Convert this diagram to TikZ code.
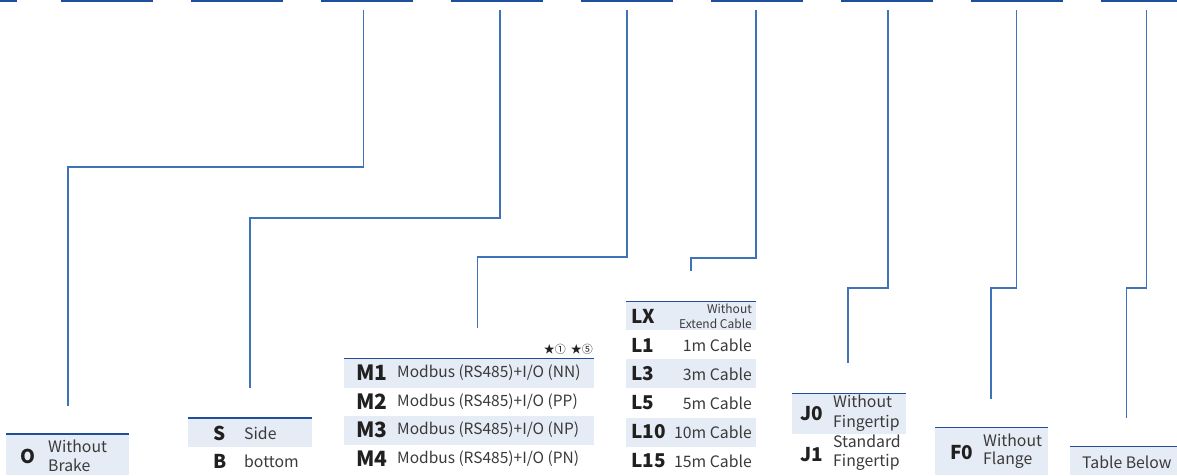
\documentclass[tikz,border=0pt]{standalone}
\usepackage{fontspec}
\setmainfont{Noto Sans CJK SC}
\definecolor{barc}{HTML}{1F4E9A}
\definecolor{lnc}{HTML}{3F73B8}
\definecolor{fillc}{HTML}{E6ECF5}
\definecolor{txtc}{HTML}{3A3A3A}
\definecolor{labc}{HTML}{202020}
\begin{document}
\begin{tikzpicture}[x=1pt,y=-1pt,
  topbar/.style={draw=barc, line width=2pt},
  conn/.style={draw=lnc, line width=1.4pt},
  rowbox/.style={fill=fillc, inner sep=0, anchor=north west},
  toprule/.style={draw=barc, line width=1.3pt},
  code/.style={font=\fontsize{19}{19}\selectfont\bfseries, text=labc, inner sep=0},
  mcode/.style={font=\fontsize{21}{21}\selectfont\bfseries, text=labc, inner sep=0},
  desc/.style={font=\fontsize{15.8}{18.5}\selectfont, text=txtc, inner sep=0, anchor=west, align=left},
  mdesc/.style={font=\fontsize{15.5}{18}\selectfont, text=txtc, inner sep=0, anchor=west},
  smalldesc/.style={font=\fontsize{12}{15}\selectfont, text=txtc, inner sep=0, anchor=east, align=right}
]
\useasboundingbox (0,0) rectangle (1177,475);

% top bars
\draw[topbar] (0,1) -- (17,1);
\foreach \x in {61,191,321,451,581,711,841,971,1101} \draw[topbar] (\x,1) -- (\x+92,1);

% connector start / end coordinates
\coordinate (t1) at (363.5,10);  \coordinate (e1) at (68,406);
\coordinate (t2) at (500,10);    \coordinate (e2) at (250,388);
\coordinate (t3) at (627,10);    \coordinate (e3) at (477.5,328);
\coordinate (t4) at (756,10);    \coordinate (e4) at (691,271);
\coordinate (t5) at (888,10);    \coordinate (e5) at (848,363);
\coordinate (t6) at (1016.5,10); \coordinate (e6) at (991,399);
\coordinate (t7) at (1146.5,10); \coordinate (e7) at (1126.5,418);

\draw[conn] (t1) -- (t1 |- 0,167) -| (e1);
\draw[conn] (t2) -- (t2 |- 0,218) -| (e2);
\draw[conn] (t3) -- (t3 |- 0,257) -| (e3);
\draw[conn] (t4) -- (t4 |- 0,258) -| (e4);
\draw[conn] (t5) -- (t5 |- 0,288) -| (e5);
\draw[conn] (t6) -- (t6 |- 0,288) -| (e6);
\draw[conn] (t7) -- (t7 |- 0,288) -| (e7);

% O box
\node[rowbox, minimum width=123pt, minimum height=41pt] (obox) at (6,434) {};
\draw[toprule] (obox.north west) -- (obox.north east);
\node[code] (oc) at (28,456) {O};
\node[desc] (od) at (48,456) {Without\\Brake};

% S / B box
\node[rowbox, minimum width=124pt, minimum height=29pt] (sbox) at (188,418) {};
\draw[toprule] (sbox.north west) -- (sbox.north east);
\node[code] (sc) at (220,433) {S};
\node[desc] (sd) at (244,433) {Side};
\node[code] (bc) at (220,461) {B};
\node[desc] (bd) at (244,461) {bottom};

% M table
\node[font=\fontsize{11}{11}\selectfont, text=labc, inner sep=0, anchor=east] (stars) at (593,349) {★①\hspace{5pt}★⑤};
\node[rowbox, minimum width=250pt, minimum height=29.5pt] (m1box) at (344,358.3) {};
\node[rowbox, minimum width=250pt, minimum height=28.5pt] (m3box) at (344,416) {};
\draw[toprule] (m1box.north west) -- (m1box.north east);
\node[mcode] (m1) at (372,373) {M1};
\node[mdesc] (m1d) at (397,373) {Modbus (RS485)+I/O (NN)};
\node[mcode] (m2) at (372,402) {M2};
\node[mdesc] (m2d) at (397,402) {Modbus (RS485)+I/O (PP)};
\node[mcode] (m3) at (372,430) {M3};
\node[mdesc] (m3d) at (397,430) {Modbus (RS485)+I/O (NP)};
\node[mcode] (m4) at (372,459) {M4};
\node[mdesc] (m4d) at (397,459) {Modbus (RS485)+I/O (PN)};

% L table
\node[rowbox, minimum width=130pt, minimum height=28pt] (lxbox) at (626,301.5) {};
\node[rowbox, minimum width=130pt, minimum height=29.5pt] (l3box) at (626,358.3) {};
\node[rowbox, minimum width=130pt, minimum height=28.8pt] (l10box) at (626,418) {};
\draw[toprule] (lxbox.north west) -- (lxbox.north east);
\node[code, anchor=west] (lx) at (631,316) {LX};
\node[smalldesc] (lxd) at (752,316) {Without\\Extend Cable};
\node[code, anchor=west] (l1) at (631,345) {L1};
\node[desc, anchor=east] (l1d) at (752,345) {1m Cable};
\node[code, anchor=west] (l3) at (631,374) {L3};
\node[desc, anchor=east] (l3d) at (752,374) {3m Cable};
\node[code, anchor=west] (l5) at (631,403) {L5};
\node[desc, anchor=east] (l5d) at (752,403) {5m Cable};
\node[code, anchor=west] (l10) at (631,432) {L10};
\node[desc, anchor=east] (l10d) at (752,432) {10m Cable};
\node[code, anchor=west] (l15) at (631,461) {L15};
\node[desc, anchor=east] (l15d) at (752,461) {15m Cable};

% J box
\node[rowbox, minimum width=114pt, minimum height=40pt] (jbox) at (792,393.3) {};
\draw[toprule] (jbox.north west) -- (jbox.north east);
\node[code] (j0) at (812,414) {J0};
\node[desc, font=\fontsize{15.8}{20}\selectfont] (j0d) at (833,413) {Without\\Fingertip};
\node[code] (j1) at (812,455) {J1};
\node[desc, font=\fontsize{15.8}{19}\selectfont] (j1d) at (833,452.5) {Standard\\Fingertip};

% F box
\node[rowbox, minimum width=113pt, minimum height=47.5pt] (fbox) at (935,427.5) {};
\draw[toprule] (fbox.north west) -- (fbox.north east);
\node[code] (f0) at (962,453) {F0};
\node[desc] (f0d) at (983,451) {Without\\Flange};

% Table Below box
\node[rowbox, minimum width=107pt, minimum height=28.5pt] (tbox) at (1070,446.5) {};
\draw[toprule] (tbox.north west) -- (tbox.north east);
\node[desc] (td) at (1082,462) {Table Below};
\end{tikzpicture}
\end{document}
